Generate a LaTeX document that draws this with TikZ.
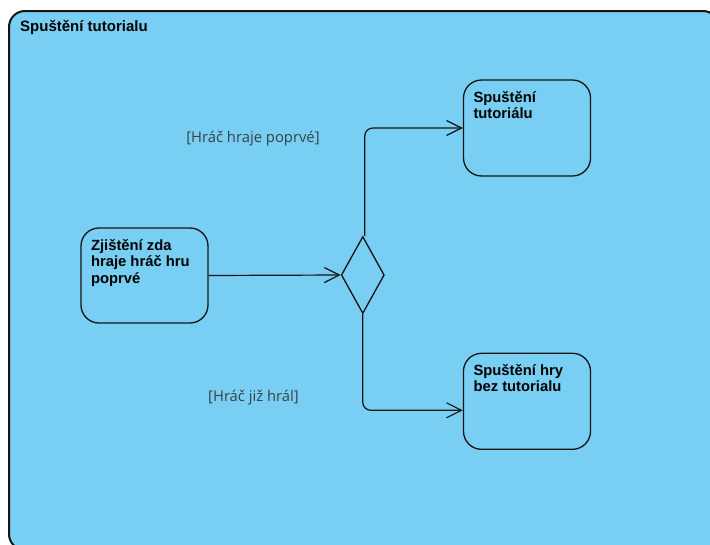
\documentclass[tikz,border=0pt]{standalone}
\usepackage{fontspec}
\setmainfont{Liberation Sans}
\newfontfamily\labelfont{Open Sans}
\usetikzlibrary{shapes.geometric,arrows.meta}
\definecolor{frameblue}{RGB}{121,207,243}
\definecolor{guardtext}{RGB}{55,65,70}
\definecolor{linedark}{RGB}{20,20,20}
\tikzset{
  actbox/.style={draw=linedark, line width=1.3pt, rounded corners=18pt, inner xsep=10pt, inner ysep=0pt, font=\bfseries\fontsize{14.8}{16.5}\selectfont},
  decis/.style={draw=linedark, line width=1.3pt, diamond, inner sep=0pt, minimum width=43pt, minimum height=77pt},
  flow/.style={draw=linedark, line width=1.2pt, rounded corners=8pt, -{Straight Barb[length=15pt,width=15pt,line width=1.2pt]}},
  guard/.style={font=\labelfont\fontsize{14.8}{17}\selectfont, text=guardtext, inner sep=0pt},
}
\newcommand{\boxtxt}[2]{\parbox[c][#1][t]{107pt}{\raggedright\rule{0pt}{22pt}#2}}
\begin{document}
\begin{tikzpicture}[x=1pt,y=-1pt]
\useasboundingbox (0,0) rectangle (710,544);
\fill[white] (0,0) rectangle (710,544);
\begin{scope}
\clip (0,0) rectangle (710,544);
\draw[draw=linedark, fill=frameblue, line width=2pt, rounded corners=16pt] (9,11) rectangle (719,550);
\end{scope}
\node[anchor=base west, inner sep=0pt, font=\bfseries\fontsize{15}{16}\selectfont] (title) at (20,31.7) {Spuštění tutorialu};
\node[actbox] (A) at (144.5,275.5) {\boxtxt{95pt}{Zjištění zda hraje hráč hru poprvé}};
\node[actbox] (B) at (527,128) {\boxtxt{96pt}{Spuštění tutoriálu}};
\node[actbox] (C) at (527,401.3) {\boxtxt{96pt}{Spuštění hry bez tutorialu}};
\node[decis] (D) at (362.8,275) {};
\draw[flow] (A.east) -- (D.west);
\draw[flow] ([xshift=2pt]D.north) |- (B.west);
\draw[flow] (D.south) |- ([yshift=-9pt]C.west);
\node[guard] (g1) at (253,139) {[Hráč hraje poprvé]};
\node[guard] (g2) at (253.5,398) {[Hráč již hrál]};
\end{tikzpicture}
\end{document}
